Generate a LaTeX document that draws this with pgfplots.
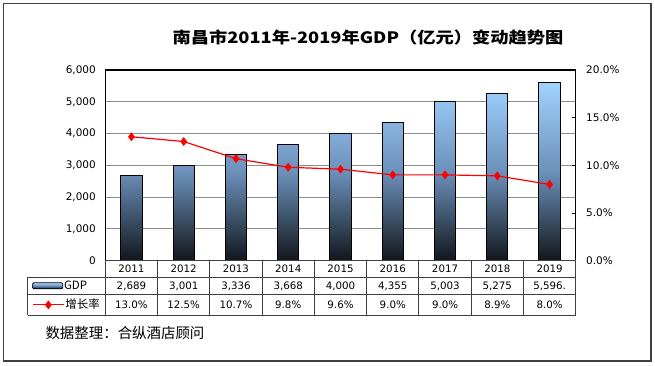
\documentclass[border=0pt]{standalone}
\usepackage{pgfplots}
\pgfplotsset{compat=1.18}
\usepackage{fontspec}
\setmainfont{Noto Sans CJK SC}
\newfontfamily\numfont{DejaVu Sans}
\definecolor{barTop}{HTML}{A0D2FF}
\definecolor{barMid}{HTML}{6C90BA}
\definecolor{barBot}{HTML}{12161C}
\definecolor{gridc}{HTML}{8C8C8C}
\definecolor{tabc}{HTML}{404040}
\begin{document}
\begin{tikzpicture}[x=1bp,y=1bp]
\useasboundingbox (0,0) rectangle (655,-365);
\draw[line width=1.2bp, color=black!75] (3.5,-3.5) rectangle (651,-361);
\node[font=\bfseries\fontsize{15.8}{18}\selectfont, xscale=1.16] at (368,-37.5) {南昌市2011年-2019年GDP（亿元）变动趋势图};

\begin{axis}[
 at={(105.3bp,-260.7bp)}, anchor=south west,
 scale only axis, width=470.4bp, height=190.7bp,
 xmin=-0.5, xmax=8.5, ymin=0, ymax=6000,
 xtick=\empty,
 ytick={0,1000,...,6000},
 yticklabels={0,{1,000},{2,000},{3,000},{4,000},{5,000},{6,000}},
 ytick pos=left,
 ymajorgrids, grid style={gridc, line width=0.9bp},
 axis line style={black, line width=1.2bp},
 major tick length=0pt,
 tick label style={font=\numfont\fontsize{10.5}{12}\selectfont},
 yticklabel style={xshift=-6bp},
 legend style={draw=none, fill=none, at={(-0.1552,-0.1316)}, anchor=west,
   inner sep=0pt, outer sep=0pt, nodes={inner sep=1bp},
   font=\fontsize{11.5}{12}\selectfont},
 legend image code/.code={\draw[draw=black, line width=0.8bp, top color=barTop, bottom color=barBot, middle color=barMid, rounded corners=1bp] (0bp,-3bp) rectangle (30bp,3bp);},
]
\addplot[ybar, bar width=21.3bp, draw=black, line width=1bp,
  top color=barTop, bottom color=barBot, middle color=barMid]
  coordinates {(0,2689) (1,3001) (2,3336) (3,3668) (4,4000) (5,4355) (6,5003) (7,5275) (8,5596)};
\addlegendentry{GDP}
\end{axis}

\begin{axis}[
 at={(105.3bp,-260.7bp)}, anchor=south west,
 scale only axis, width=470.4bp, height=190.7bp,
 xmin=-0.5, xmax=8.5, ymin=0, ymax=20,
 axis y line*=right, axis x line=none,
 ytick={0,5,10,15,20},
 yticklabels={0.0\%,5.0\%,10.0\%,15.0\%,20.0\%},
 tick align=inside, major tick length=3.5bp,
 ytick style={black, line width=0.9bp},
 axis line style={black, line width=1.2bp},
 tick label style={font=\numfont\fontsize{10.5}{12}\selectfont},
 yticklabel style={xshift=7bp},
 legend style={draw=none, fill=none, at={(-0.1552,-0.2316)}, anchor=west,
   inner sep=0pt, outer sep=0pt, nodes={inner sep=1bp},
   font=\fontsize{11.5}{12}\selectfont},
 legend image code/.code={\draw[#1, mark repeat=2, mark phase=2] plot coordinates {(0bp,0bp) (15.5bp,0bp) (31bp,0bp)};},
]
\addplot[red, line width=1.2bp, mark=diamond*, mark size=3.5bp, mark options={fill=red, draw=red}]
  coordinates {(0,13.0) (1,12.5) (2,10.7) (3,9.8) (4,9.6) (5,9.0) (6,9.0) (7,8.9) (8,8.0)};
\addlegendentry{增长率}
\end{axis}

% data table grid
\begin{scope}[tabc, line width=1bp]
\draw (105.3,-260.7) -- (575.7,-260.7);
\foreach \yy in {277.3,294.3,315.3} \draw (27.7,-\yy) -- (575.7,-\yy);
\draw (27.7,-277.3) -- (27.7,-315.3);
\foreach \k in {0,...,9} \draw ({105.3+\k*52.267},-260.7) -- ({105.3+\k*52.267},-315.3);
\end{scope}
\foreach \lab [count=\i from 0] in {2011,2012,2013,2014,2015,2016,2017,2018,2019}
  \node[font=\numfont\fontsize{10.3}{12}\selectfont] at ({105.3+(\i+0.5)*52.267},-269) {\lab};
\foreach \lab [count=\i from 0] in {{2,689},{3,001},{3,336},{3,668},{4,000},{4,355},{5,003},{5,275},{5,596.}}
  \node[font=\numfont\fontsize{10.3}{12}\selectfont] at ({105.3+(\i+0.5)*52.267},-285.8) {\lab};
\foreach \lab [count=\i from 0] in {13.0\%,12.5\%,10.7\%,9.8\%,9.6\%,9.0\%,9.0\%,8.9\%,8.0\%}
  \node[font=\numfont\fontsize{10.3}{12}\selectfont] at ({105.3+(\i+0.5)*52.267},-304.8) {\lab};

\node[anchor=west, font=\fontsize{14.5}{16}\selectfont] at (42,-333) {数据整理：合纵酒店顾问};
\end{tikzpicture}
\end{document}
